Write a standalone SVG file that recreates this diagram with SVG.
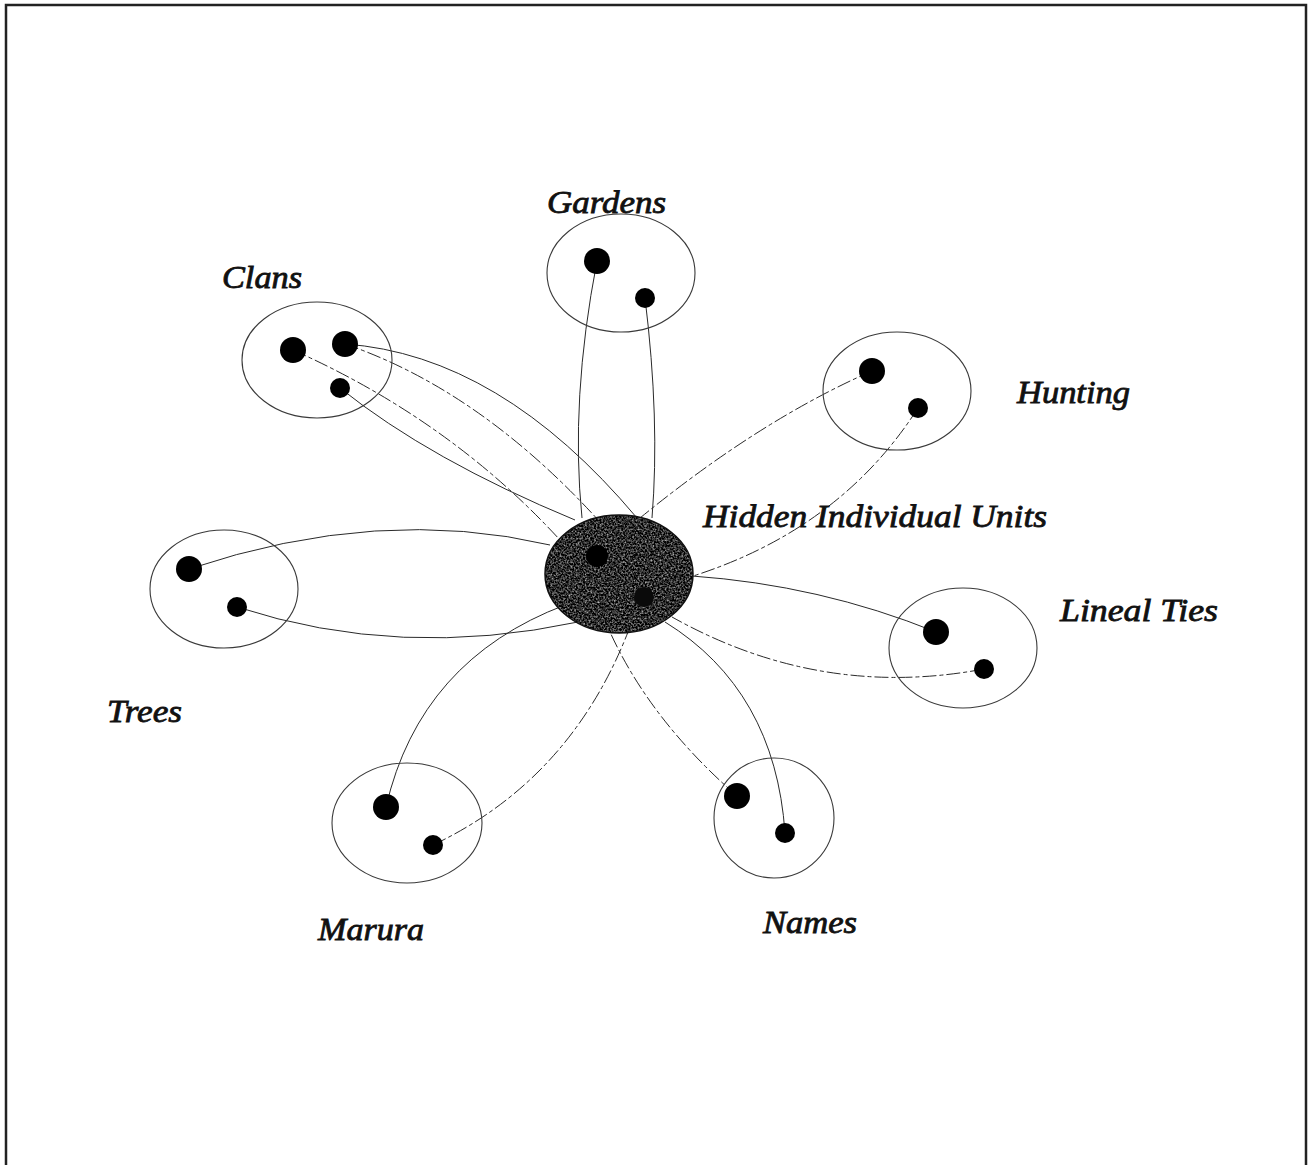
<svg xmlns="http://www.w3.org/2000/svg" width="1312" height="1165" viewBox="0 0 1312 1165">
<style>
.grp{fill:none;stroke:#3a3a3a;stroke-width:1.1}
.dot{fill:#000}
.lbl{font-family:"Liberation Serif",serif;font-style:italic;font-weight:normal;font-size:31px;fill:#111;stroke:#111;stroke-width:0.8}
.ln{fill:none;stroke:#2a2a2a;stroke-width:1}
.dsh{stroke-dasharray:14 3 4 3}
</style>
<defs>
<filter id="grain" x="0" y="0" width="1" height="1" color-interpolation-filters="sRGB">
<feTurbulence type="fractalNoise" baseFrequency="0.55" numOctaves="2" seed="7" result="n"/>
<feColorMatrix in="n" type="matrix" values="1.4 0 0 0 -0.52  1.4 0 0 0 -0.52  1.4 0 0 0 -0.52  0 0 0 0 1" result="g"/>
<feComposite in="g" in2="SourceGraphic" operator="in"/>
</filter>
</defs>
<rect x="0" y="0" width="1312" height="1165" fill="#fff"/>
<path d="M6,1165 V5 H1306 V1165" fill="none" stroke="#222" stroke-width="2.5"/>
<g id="connectors">
<path class="ln" d="M345,344 Q500,355 637,518"/>
<path class="ln dsh" d="M345,344 Q480,390 600,522"/>
<path class="ln dsh" d="M293,350 Q450,420 560,540"/>
<path class="ln" d="M340,388 Q430,460 575,520"/>
<path class="ln" d="M597,261 Q570,400 582,518"/>
<path class="ln" d="M645,298 Q660,420 652,518"/>
<path class="ln dsh" d="M872,371 Q760,420 640,518"/>
<path class="ln dsh" d="M918,408 Q840,530 690,577"/>
<path class="ln" d="M936,632 Q820,585 692,576"/>
<path class="ln dsh" d="M984,669 Q820,700 672,617"/>
<path class="ln dsh" d="M737,796 Q650,720 610,632"/>
<path class="ln" d="M785,833 Q775,690 665,622"/>
<path class="ln" d="M386,807 Q420,660 565,605"/>
<path class="ln dsh" d="M433,845 Q570,780 628,632"/>
<path class="ln" d="M189,569 Q380,505 550,545"/>
<path class="ln" d="M237,607 Q400,660 578,622"/>
</g>
<g id="hidden-units">
<ellipse cx="619" cy="574" rx="74" ry="59" fill="#333"/>
<ellipse cx="619" cy="574" rx="74" ry="59" fill="#000" filter="url(#grain)"/>
<ellipse cx="619" cy="574" rx="74" ry="59" fill="none" stroke="#111" stroke-width="1.5"/>
<circle cx="597" cy="556" r="11" fill="#000"/>
<circle cx="644" cy="597" r="10" fill="#0a0a0a"/>
<text class="lbl" x="703" y="527" textLength="344" lengthAdjust="spacingAndGlyphs">Hidden Individual Units</text>
</g>
<g id="gardens">
<ellipse class="grp" cx="621" cy="273" rx="74" ry="59"/>
<circle class="dot" cx="597" cy="261" r="13"/>
<circle class="dot" cx="645" cy="298" r="10"/>
<text class="lbl" x="547" y="213" textLength="119" lengthAdjust="spacingAndGlyphs">Gardens</text>
</g>
<g id="clans">
<ellipse class="grp" cx="317" cy="360" rx="75" ry="58"/>
<circle class="dot" cx="293" cy="350" r="13"/>
<circle class="dot" cx="345" cy="344" r="13"/>
<circle class="dot" cx="340" cy="388" r="10"/>
<text class="lbl" x="222" y="288" textLength="80" lengthAdjust="spacingAndGlyphs">Clans</text>
</g>
<g id="hunting">
<ellipse class="grp" cx="897" cy="391" rx="74" ry="59"/>
<circle class="dot" cx="872" cy="371" r="13"/>
<circle class="dot" cx="918" cy="408" r="10"/>
<text class="lbl" x="1017" y="403" textLength="113" lengthAdjust="spacingAndGlyphs">Hunting</text>
</g>
<g id="trees">
<ellipse class="grp" cx="224" cy="589" rx="74" ry="59"/>
<circle class="dot" cx="189" cy="569" r="13"/>
<circle class="dot" cx="237" cy="607" r="10"/>
<text class="lbl" x="107" y="722" textLength="75" lengthAdjust="spacingAndGlyphs">Trees</text>
</g>
<g id="lineal-ties">
<ellipse class="grp" cx="963" cy="648" rx="74" ry="60"/>
<circle class="dot" cx="936" cy="632" r="13"/>
<circle class="dot" cx="984" cy="669" r="10"/>
<text class="lbl" x="1060" y="621" textLength="158" lengthAdjust="spacingAndGlyphs">Lineal Ties</text>
</g>
<g id="marura">
<ellipse class="grp" cx="407" cy="823" rx="75" ry="60"/>
<circle class="dot" cx="386" cy="807" r="13"/>
<circle class="dot" cx="433" cy="845" r="10"/>
<text class="lbl" x="318" y="940" textLength="106" lengthAdjust="spacingAndGlyphs">Marura</text>
</g>
<g id="names">
<ellipse class="grp" cx="774" cy="818" rx="60" ry="60"/>
<circle class="dot" cx="737" cy="796" r="13"/>
<circle class="dot" cx="785" cy="833" r="10"/>
<text class="lbl" x="763" y="933" textLength="94" lengthAdjust="spacingAndGlyphs">Names</text>
</g>
</svg>
